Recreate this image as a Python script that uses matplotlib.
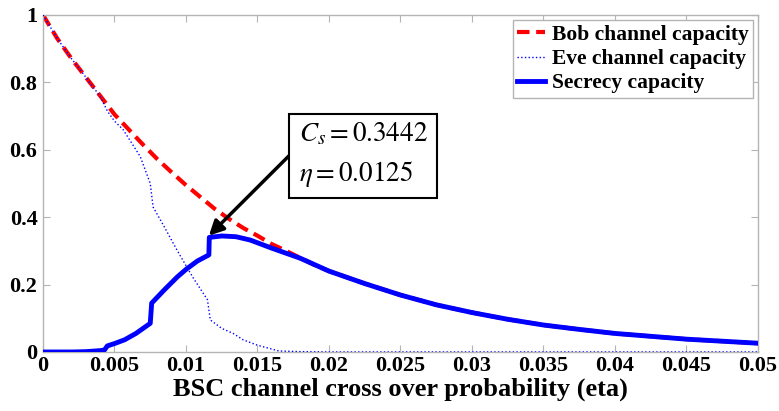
import matplotlib.pyplot as plt

# channel capacities vs. BSC cross over probability
bob_eta = [0, 0.001, 0.002, 0.003, 0.004, 0.005, 0.006, 0.007, 0.008, 0.009,
           0.010, 0.011, 0.012, 0.013, 0.014, 0.015, 0.016, 0.017, 0.018, 0.019,
           0.020, 0.0225, 0.025, 0.0275, 0.030, 0.0325, 0.035, 0.0375, 0.040,
           0.045, 0.050]
bob_cap = [1.0, 0.93, 0.87, 0.815, 0.76, 0.705, 0.66, 0.615, 0.572, 0.533,
           0.495, 0.46, 0.425, 0.395, 0.368, 0.345, 0.32, 0.30, 0.279, 0.258,
           0.240, 0.203, 0.169, 0.140, 0.117, 0.097, 0.080, 0.067, 0.055,
           0.038, 0.026]

eve_eta = [0, 0.001, 0.002, 0.003, 0.004, 0.0045, 0.005, 0.0056, 0.0062, 0.0068,
           0.0075, 0.0077, 0.0085, 0.0094, 0.0105, 0.0115, 0.0117, 0.0125,
           0.0133, 0.014, 0.015, 0.0165, 0.018, 0.020, 0.030, 0.040, 0.050]
eve_cap = [1.0, 0.93, 0.87, 0.815, 0.758, 0.715, 0.685, 0.66, 0.62, 0.58,
           0.50, 0.43, 0.37, 0.30, 0.22, 0.155, 0.095, 0.07,
           0.055, 0.036, 0.02, 0.003, 0.001, 0.0, 0.0, 0.0, 0.0]

sec_eta = [0, 0.001, 0.002, 0.003, 0.004, 0.0043, 0.0045, 0.005, 0.0057, 0.0065,
           0.0075, 0.0076, 0.0085, 0.0094, 0.010, 0.0108, 0.0116, 0.01163,
           0.0125, 0.0135, 0.0145, 0.016, 0.018, 0.020, 0.0225, 0.025, 0.0275,
           0.030, 0.0325, 0.035, 0.0375, 0.040, 0.045, 0.050]
sec_cap = [0, 0, 0, 0.001, 0.004, 0.006, 0.018, 0.025, 0.036, 0.055,
           0.085, 0.145, 0.185, 0.223, 0.245, 0.27, 0.288, 0.340,
           0.3442, 0.342, 0.332, 0.308, 0.278, 0.240, 0.203, 0.169, 0.140,
           0.117, 0.097, 0.080, 0.067, 0.055, 0.038, 0.026]

peak_eta = 0.0116
peak_cap = 0.345

plt.rcParams['font.family'] = ['Liberation Serif', 'DejaVu Serif']
plt.rcParams['mathtext.fontset'] = 'stix'

fig = plt.figure(figsize=(7.79, 4.11), dpi=100)
ax = fig.add_axes([0.0552, 0.1436, 0.9178, 0.82])

ax.plot(bob_eta, bob_cap, color='#ff0000', linestyle=(0, (3, 1.6)), linewidth=3,
        label='Bob channel capacity', zorder=2)
ax.plot(eve_eta, eve_cap, color='#0000ff', linestyle=':', linewidth=1,
        label='Eve channel capacity', zorder=3)
ax.plot(sec_eta, sec_cap, color='#0000ff', linewidth=3.5,
        label='Secrecy capacity', zorder=4)

ax.set_xlim(0, 0.05)
ax.set_ylim(0, 1)
ax.set_xticks([0, 0.005, 0.01, 0.015, 0.02, 0.025, 0.03, 0.035, 0.04, 0.045, 0.05])
ax.set_xticklabels(['0', '0.005', '0.01', '0.015', '0.02', '0.025', '0.03',
                    '0.035', '0.04', '0.045', '0.05'])
ax.set_yticks([0, 0.2, 0.4, 0.6, 0.8, 1])
ax.set_yticklabels(['0', '0.2', '0.4', '0.6', '0.8', '1'])

for s in ax.spines.values():
    s.set_color('#b4b4b4')
    s.set_linewidth(1)
ax.tick_params(direction='in', top=True, right=True, color='#b4b4b4',
               length=5, labelsize=16)
ax.tick_params(axis='x', pad=3)
ax.tick_params(axis='y', pad=4)
for lab in ax.get_xticklabels() + ax.get_yticklabels():
    lab.set_fontweight('bold')

ax.set_xlabel('BSC channel cross over probability (eta)', fontsize=19,
              fontweight='bold', labelpad=1)

leg = ax.legend(loc='upper right', fontsize=15.5, handlelength=1.3,
                handletextpad=0.3, borderpad=0.2, labelspacing=0.2,
                fancybox=False, framealpha=1, borderaxespad=0.25)
leg.get_frame().set_edgecolor('#b4b4b4')
for t in leg.get_texts():
    t.set_fontweight('bold')

# value box and arrow to the peak of the secrecy capacity
ax.text(0.0179, 0.585, '$C_s = 0.3442$\n$\\eta = 0.0125$',
        fontsize=19.5, va='center', ha='left', linespacing=1.5,
        bbox=dict(boxstyle='square,pad=0.35', fc='white', ec='black', lw=1.5),
        zorder=6)
ax.annotate('', xy=(peak_eta, peak_cap), xytext=(0.01727, 0.585),
            arrowprops=dict(arrowstyle='-|>', color='black', lw=2.5,
                            mutation_scale=22, shrinkA=0, shrinkB=0),
            zorder=5)

fig.savefig('out.png', dpi=100)
